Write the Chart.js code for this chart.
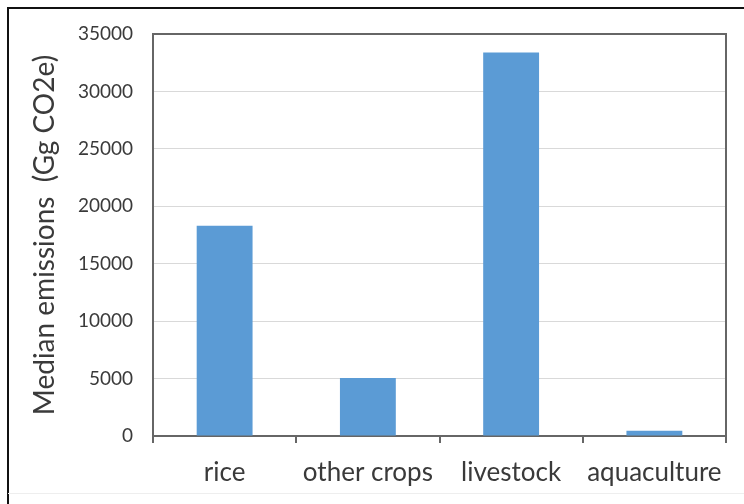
<!DOCTYPE html>
<html>
<head>
<meta charset="utf-8">
<script src="https://cdn.jsdelivr.net/npm/chart.js@4/dist/chart.umd.min.js"></script>
<style>
  html, body { margin: 0; padding: 0; background: #ffffff; }
  #wrap { width: 744px; height: 504px; position: relative; }
</style>
</head>
<body>
<div id="wrap"><canvas id="c" width="744" height="504"></canvas></div>
<script>
// Median emissions by agricultural source (Gg CO2e)
const categories = ['rice', 'other crops', 'livestock', 'aquaculture'];
const medianEmissions = [18300, 5050, 33400, 450];
const yTickValues = [0, 5000, 10000, 15000, 20000, 25000, 30000, 35000];
const yTitle = 'Median emissions  (Gg CO2e)';

const textColor = '#3a3a3a';
const axisColor = '#666666';
const gridColor = '#d9d9d9';
const barColor = '#5b9bd5';
const fontFamily = 'Lato, "Open Sans", sans-serif';

// Frame around the whole figure and the box around the plot area
const framePlugin = {
  id: 'frame',
  beforeDraw(chart) {
    const ctx = chart.ctx;
    ctx.save();
    ctx.fillStyle = '#ffffff';
    ctx.fillRect(0, 0, chart.width, chart.height);
    ctx.restore();
  },
  afterDraw(chart) {
    const ctx = chart.ctx;
    const a = chart.chartArea;
    ctx.save();
    ctx.strokeStyle = '#111111';
    ctx.lineWidth = 2;
    ctx.beginPath();
    ctx.moveTo(8, chart.height);
    ctx.lineTo(8, 8);
    ctx.lineTo(chart.width, 8);
    ctx.stroke();
    ctx.strokeStyle = '#eeeeee';
    ctx.lineWidth = 1;
    ctx.beginPath();
    ctx.moveTo(8, 493.5);
    ctx.lineTo(chart.width, 493.5);
    ctx.stroke();
    ctx.strokeStyle = axisColor;
    ctx.lineWidth = 2;
    ctx.beginPath();
    ctx.moveTo(a.left, a.top);
    ctx.lineTo(a.right, a.top);
    ctx.lineTo(a.right, a.bottom);
    ctx.stroke();
    ctx.restore();
  }
};

new Chart(document.getElementById('c'), {
  type: 'bar',
  data: {
    labels: categories,
    datasets: [{
      data: medianEmissions,
      backgroundColor: barColor,
      borderWidth: 0,
      categoryPercentage: 0.39,
      barPercentage: 1.0
    }]
  },
  options: {
    responsive: false,
    devicePixelRatio: 1,
    animation: false,
    layout: { padding: { left: 0, top: 34, right: 18, bottom: 0 } },
    plugins: {
      legend: { display: false },
      tooltip: { enabled: false }
    },
    scales: {
      x: {
        grid: {
          display: true,
          drawOnChartArea: false,
          drawTicks: true,
          tickLength: 7,
          color: axisColor,
          lineWidth: 2,
          offset: true
        },
        border: { display: true, color: axisColor, width: 2 },
        ticks: {
          color: textColor,
          font: { family: fontFamily, size: 26 },
          padding: 14,
          maxRotation: 0,
          autoSkip: false
        },
        afterFit(scale) { scale.height = 504 - 436; }
      },
      y: {
        min: 0,
        max: 35000,
        afterBuildTicks(scale) {
          scale.ticks = yTickValues.map(v => ({ value: v }));
        },
        grid: {
          display: true,
          drawTicks: false,
          color: gridColor,
          lineWidth: 1
        },
        border: { display: true, color: axisColor, width: 2 },
        ticks: {
          color: textColor,
          font: { family: fontFamily, size: 19 },
          padding: 20,
          callback: (value) => String(value)
        },
        title: {
          display: true,
          text: yTitle,
          color: textColor,
          font: { family: fontFamily, size: 28 },
          padding: { top: 28, bottom: 0 }
        },
        afterFit(scale) { scale.width = 153; }
      }
    }
  },
  plugins: [framePlugin]
});
</script>
</body>
</html>
